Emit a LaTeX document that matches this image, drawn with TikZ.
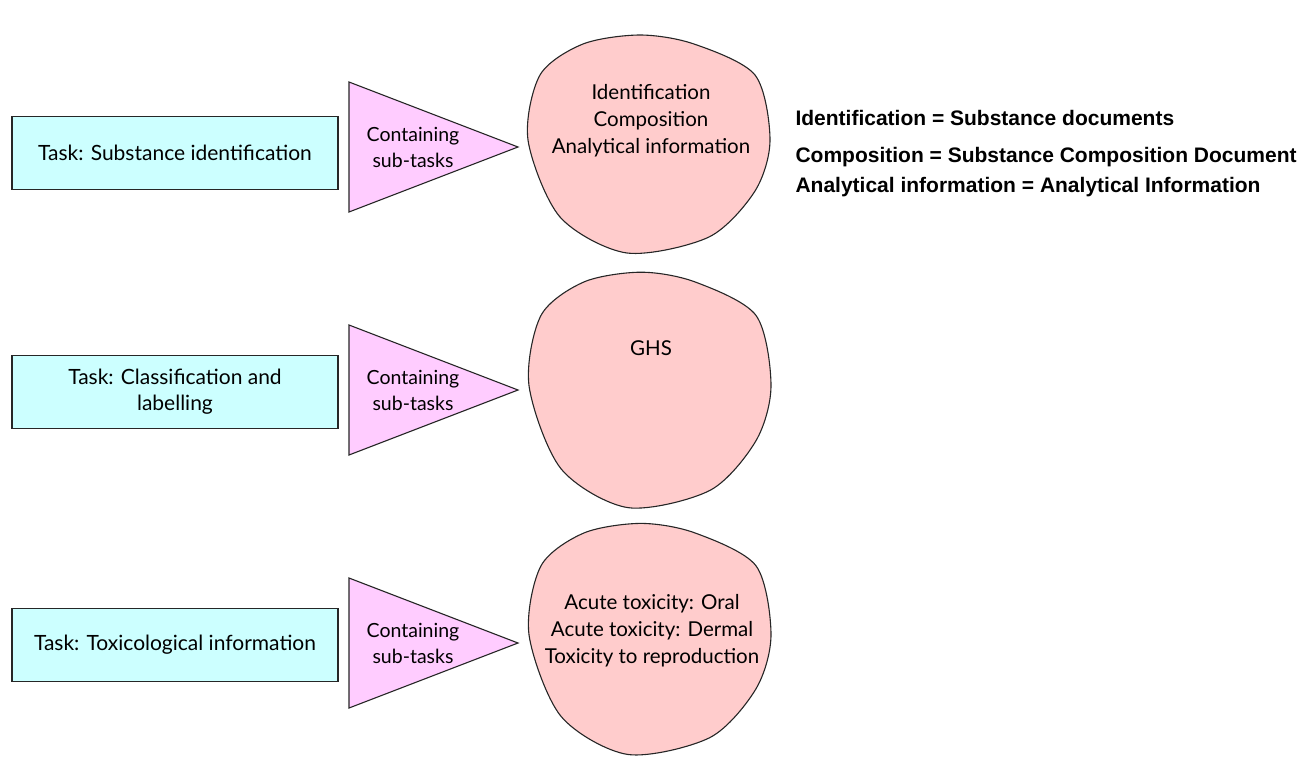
\documentclass[tikz,border=0pt]{standalone}
\usepackage{fontspec}
\setmainfont{Lato}
\newfontfamily\legendfont{Liberation Sans}
\definecolor{taskfill}{HTML}{CCFFFF}
\definecolor{subfill}{HTML}{FFCCFF}
\definecolor{groupfill}{HTML}{FFCCCC}
\begin{document}
\begin{tikzpicture}[x=1pt,y=-1pt,
  taskbox/.style={draw=black!85, line width=1.1pt, fill=taskfill, minimum width=326pt, minimum height=73pt, align=center, font=\fontsize{21}{26}\selectfont, inner sep=0pt},
  subtask/.style={draw=black!85, line width=1.1pt, fill=subfill, line join=miter},
  blob/.style={draw=black!85, line width=1.1pt, fill=groupfill},
  blobtext/.style={align=center, font=\fontsize{20.5}{27}\selectfont},
  tritext/.style={align=center, font=\fontsize{19.5}{26}\selectfont},
  legend/.style={anchor=west, font=\legendfont\bfseries\fontsize{21}{24}\selectfont}]
\useasboundingbox (0,0) rectangle (1301,758);

% wobbly outline used for the sub-task groups
\def\blobshape#1#2#3{%
  \draw[blob, shift={(#1,#2)}, yscale=#3] plot[smooth cycle, tension=0.5] coordinates {
    (-9,-110) (45,-101) (106,-70) (121,-5) (106,46) (60,92) (-22,108) (-89,72) (-121,-5) (-109,-70) (-66,-101)};}

% row 1
\node[taskbox] (t1) at (175,153) {Task: Substance identification};
\draw[subtask] (349,82) -- (518,147) -- (349,212) -- cycle;
\node[tritext] (s1) at (413,147) {Containing\\sub-tasks};
\blobshape{649}{145}{1}
\node[blobtext] (b1) at (651,121) {Identification\\Composition\\Analytical information};

% row 2
\node[taskbox] (t2) at (175,392) {Task: Classification and\\labelling};
\draw[subtask] (349,325) -- (518,390) -- (349,455) -- cycle;
\node[tritext] (s2) at (413,390) {Containing\\sub-tasks};
\blobshape{650}{391}{1.08}
\node[blobtext] (b2) at (651,348) {GHS};

% row 3
\node[taskbox] (t3) at (175,645) {Task: Toxicological information};
\draw[subtask] (349,578) -- (518,643) -- (349,708) -- cycle;
\node[tritext] (s3) at (413,643) {Containing\\sub-tasks};
\blobshape{650}{640}{1.06}
\node[blobtext] (b3) at (652,631) {Acute toxicity: Oral\\Acute toxicity: Dermal\\Toxicity to reproduction};

% legend
\node[legend] (l1) at (792,118) {Identification = Substance documents};
\node[legend] (l2) at (792,157) {Composition = Substance Composition Document};
\node[legend] (l3) at (792,187) {Analytical information = Analytical Information};
\end{tikzpicture}
\end{document}
